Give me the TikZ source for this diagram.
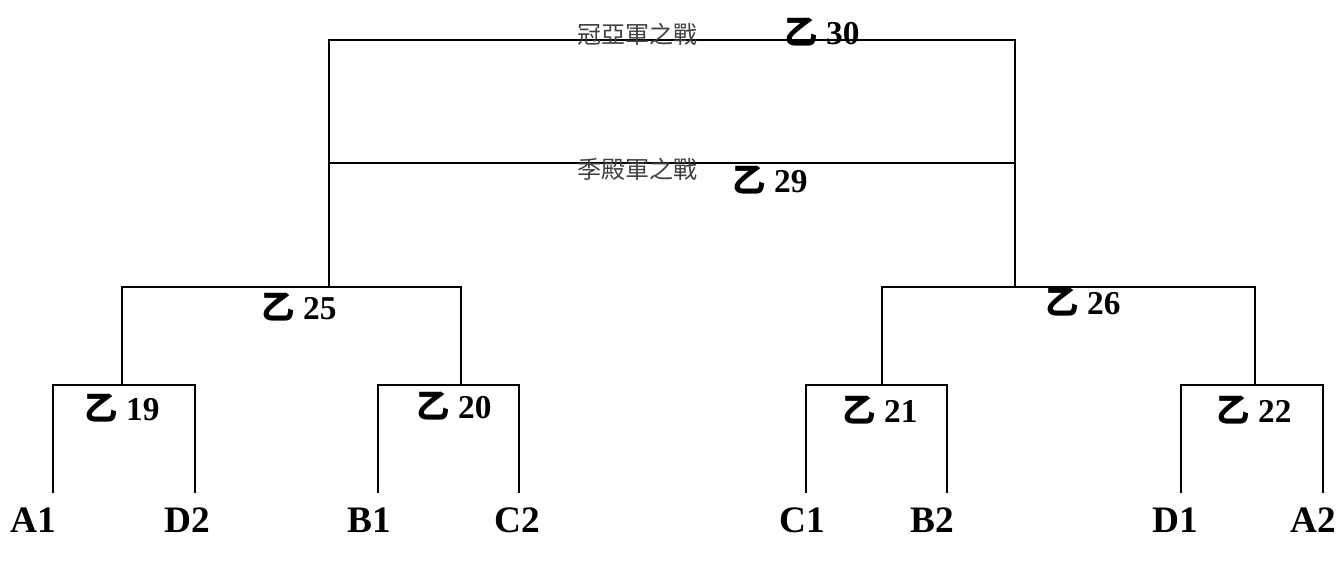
\documentclass[tikz,border=0pt]{standalone}
\usepackage{fontspec}
\setmainfont{Liberation Serif}
\newfontfamily\cjk{Noto Sans CJK TC}
\begin{document}
\begin{tikzpicture}[x=0.75pt,y=-0.75pt,
  br/.style={line width=1pt,black},
  game/.style={inner sep=0pt,font=\fontsize{25}{27}\selectfont\bfseries},
  round/.style={inner sep=0pt,text=black!75,font=\cjk\fontsize{18}{20}\selectfont},
  team/.style={inner sep=0pt,font=\fontsize{28}{30}\selectfont\bfseries}]
\useasboundingbox (0,0) rectangle (1342,561);
% leaf coordinates
\coordinate (l1) at (53,493);
\coordinate (l2) at (195,493);
\coordinate (l3) at (378,493);
\coordinate (l4) at (519,493);
\coordinate (l5) at (806,493);
\coordinate (l6) at (947,493);
\coordinate (l7) at (1181,493);
\coordinate (l8) at (1323,493);
\coordinate (m19) at (122,385);
\coordinate (m20) at (461,385);
\coordinate (m21) at (882,385);
\coordinate (m22) at (1255,385);
\coordinate (m25) at (329,287);
\coordinate (m26) at (1015,287);
\coordinate (t30) at (672,40);
\coordinate (t29l) at (329,163);
\coordinate (t29r) at (1015,163);
% brackets
\draw[br] (l1) |- (m19) -| (l2);
\draw[br] (l3) |- (m20) -| (l4);
\draw[br] (l5) |- (m21) -| (l6);
\draw[br] (l7) |- (m22) -| (l8);
\draw[br] (m19) |- (m25) -| (m20);
\draw[br] (m21) |- (m26) -| (m22);
\draw[br] (m25) |- (t30) -| (m26);
\draw[br] (t29l) -- (t29r);
% labels
\node[round] (r1) at (637,34) {冠亞軍之戰};
\node[round] (r2) at (637,169) {季殿軍之戰};
\node[game] (g30) at (822,32) {{\cjk 乙} 30};
\node[game] (g29) at (770,180) {{\cjk 乙} 29};
\node[game] (g25) at (299,307) {{\cjk 乙} 25};
\node[game] (g26) at (1083,302) {{\cjk 乙} 26};
\node[game] (g19) at (122,408) {{\cjk 乙} 19};
\node[game] (g20) at (454,406) {{\cjk 乙} 20};
\node[game] (g21) at (880,410) {{\cjk 乙} 21};
\node[game] (g22) at (1254,410) {{\cjk 乙} 22};
\node[team] (A1) at (33,520) {A1};
\node[team] (D2) at (187,520) {D2};
\node[team] (B1) at (369,520) {B1};
\node[team] (C2) at (517,520) {C2};
\node[team] (C1) at (802,520) {C1};
\node[team] (B2) at (932,520) {B2};
\node[team] (D1) at (1175,520) {D1};
\node[team] (A2) at (1313,520) {A2};
\end{tikzpicture}
\end{document}
